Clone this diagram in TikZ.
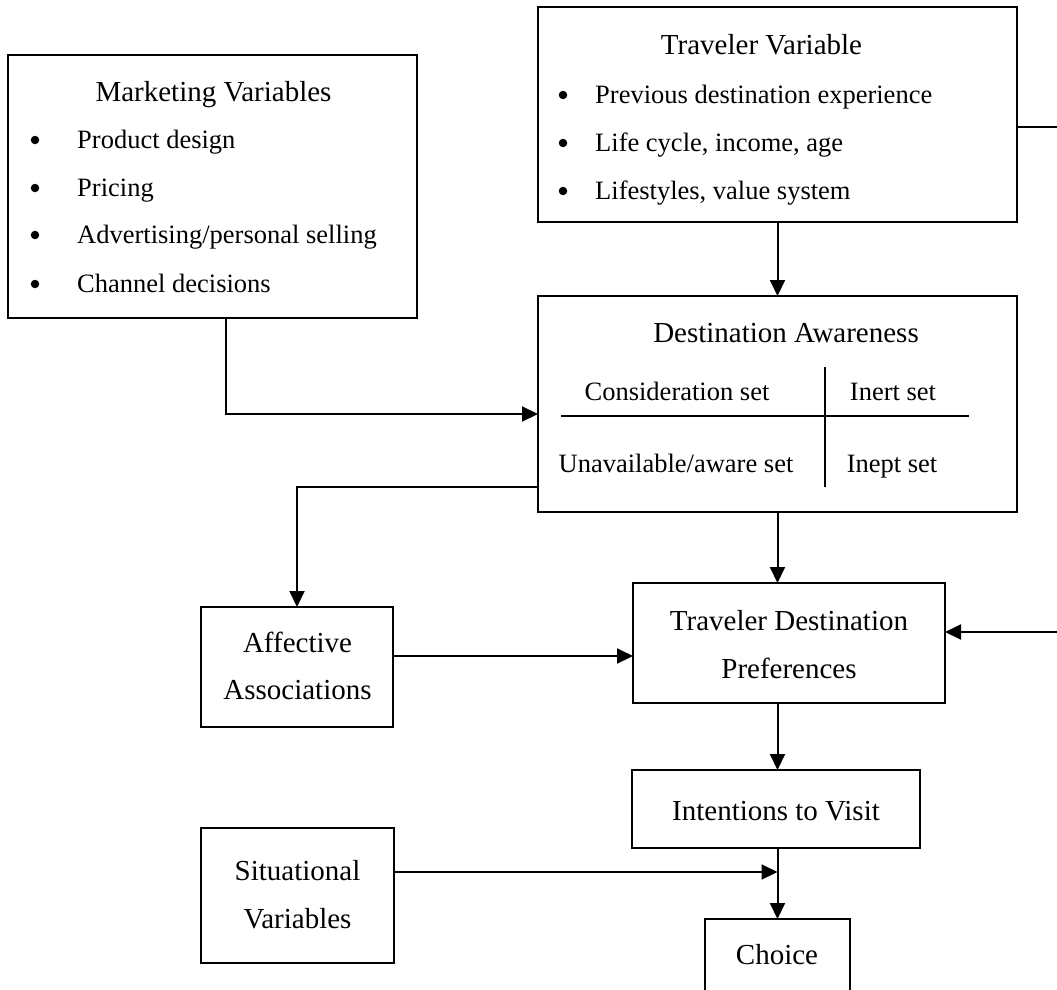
\documentclass[tikz,border=0pt]{standalone}
\usepackage{fontspec}
\setmainfont{Liberation Serif}
\usetikzlibrary{arrows.meta,calc}
\begin{document}
\begin{tikzpicture}[x=1pt,y=-1pt,
  box/.style={draw,line width=2pt,rectangle,inner sep=0pt,outer sep=0pt},
  big/.style={font=\fontsize{29}{34}\selectfont,inner sep=0pt,anchor=base},
  item/.style={font=\fontsize{26.5}{32}\selectfont,inner sep=0pt,anchor=base west},
  dot/.style={circle,fill=black,inner sep=0pt,minimum size=8.5pt},
  arr/.style={line width=2pt,-{Triangle[length=16pt,width=15pt]}},
  cross/.style={line width=1.8pt}]
\clip (0,0) rectangle (1057,990);
\fill[white] (0,0) rectangle (1057,990);

% ---- boxes ----
\node[box,minimum width=409pt,minimum height=263pt] (mkt)    at (212.5,186.5) {};
\node[box,minimum width=479pt,minimum height=215pt] (trav)   at (777.5,114.5) {};
\node[box,minimum width=479pt,minimum height=216pt] (dest)   at (777.5,404)   {};
\node[box,minimum width=192pt,minimum height=120pt] (aff)    at (297,667)     {};
\node[box,minimum width=312pt,minimum height=120pt] (pref)   at (789,643)     {};
\node[box,minimum width=288pt,minimum height=78pt]  (intent) at (776,809)     {};
\node[box,minimum width=193pt,minimum height=135pt] (sit)    at (297.5,895.5) {};
\node[box,minimum width=145pt,minimum height=91pt]  (choice) at (777.5,964.5) {};

% ---- marketing variables ----
\node[big] (mktT) at (213.5,101) {Marketing Variables};
\node[dot] (mb1) at (35,140) {};
\node[item] (mk1) at (77,148) {Product design};
\node[dot] (mb2) at (35,188) {};
\node[item] (mk2) at (77,196) {Pricing};
\node[dot] (mb3) at (35,235) {};
\node[item] (mk3) at (77,243) {Advertising/personal selling};
\node[dot] (mb4) at (35,284) {};
\node[item] (mk4) at (77,292) {Channel decisions};

% ---- traveler variable ----
\node[big] (travT) at (761.5,55) {Traveler Variable};
\node[dot] (tb1) at (563,95) {};
\node[item] (tv1) at (595,103) {Previous destination experience};
\node[dot] (tb2) at (563,143) {};
\node[item] (tv2) at (595,151) {Life cycle, income, age};
\node[dot] (tb3) at (563,191) {};
\node[item] (tv3) at (595,199) {Lifestyles, value system};

% ---- destination awareness ----
\node[big] (destT) at (786,342) {Destination Awareness};
\node[item,anchor=base] (cons) at (677,400) {Consideration set};
\node[item,anchor=base] (inert) at (893,400) {Inert set};
\node[item,anchor=base] (unav) at (676,472) {Unavailable/aware set};
\node[item,anchor=base] (inept) at (892,472) {Inept set};
\draw[cross] (561,416) -- (969,416);
\draw[cross] (825,367) -- (825,487);

% ---- remaining labels ----
\node[big] (affA) at (297.5,652) {Affective};
\node[big] (affB) at (297.5,699) {Associations};
\node[big] (prefA) at (789,630) {Traveler Destination};
\node[big] (prefB) at (789,678) {Preferences};
\node[big] (intT) at (776,820) {Intentions to Visit};
\node[big] (sitA) at (297.5,880) {Situational};
\node[big] (sitB) at (297.5,928) {Variables};
\node[big] (choT) at (777,964) {Choice};

% ---- connectors ----
\coordinate (mktx) at (226,318);
\coordinate (rbus) at (1066,380);
\draw[arr] (trav.south) -- (dest.north);
\draw[arr] (mktx) |- ([yshift=-10pt]dest.west);
\draw[arr] ([yshift=-83pt]dest.west) -| (aff.north);
\draw[arr] (dest.south) -- (dest.south |- pref.north);
\draw[arr] ([yshift=11pt]aff.east) -- ([yshift=11pt]aff.east -| pref.west);
\draw[arr] (dest.south |- pref.south) -- (dest.south |- intent.north);
\draw[arr] (intent.south -| choice.north) -- (choice.north);
\draw[arr] ([yshift=23.5pt]sit.east) coordinate (s0) -- (s0 -| choice.north);
\draw[arr] ([yshift=-12.5pt]trav.east) -| (rbus) |- ([yshift=11pt]pref.east);
\end{tikzpicture}
\end{document}
